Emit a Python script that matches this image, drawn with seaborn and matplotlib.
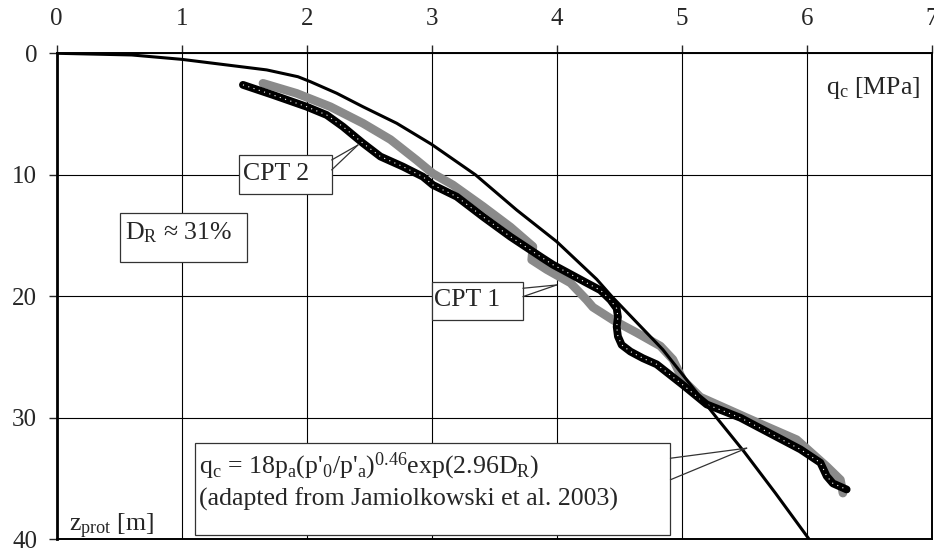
import numpy as np
import pandas as pd
import matplotlib
matplotlib.use('Agg')
import matplotlib.pyplot as plt
import seaborn as sns
from matplotlib.patches import Rectangle

# theory curve, Jamiolkowski et al. 2003
theory_q = [0, 0.6, 1.0, 1.68, 1.93, 2.03, 2.24, 2.45, 2.72, 3.0, 3.35, 3.68, 4.0,
            4.32, 4.44, 4.85, 5.28, 5.5, 5.75, 6.02]
theory_z = [0, 0.14, 0.5, 1.37, 1.93, 2.34, 3.29, 4.4, 5.76, 7.5, 10.0, 12.9, 15.5,
            18.6, 20.0, 24.4, 30.0, 32.8, 36.2, 40.0]

# CPT 1 (grey)
cpt1_q = [1.65, 1.92, 2.19, 2.45, 2.67, 2.88, 3.01, 3.17, 3.41, 3.63, 3.81, 3.80,
          3.92, 4.11, 4.24, 4.29, 4.45, 4.64, 4.83, 4.93, 5.01, 5.15, 5.39, 5.63,
          5.92, 6.16, 6.27, 6.29]
cpt1_z = [2.47, 3.3, 4.4, 5.76, 7.1, 8.8, 9.9, 10.84, 12.6, 14.3, 15.9, 17.0,
          17.8, 18.9, 20.3, 20.9, 21.95, 23.0, 24.1, 25.2, 26.9, 28.3, 29.4, 30.5,
          31.8, 34.0, 35.1, 36.2]

# CPT 2 (black)
cpt2_q = [1.49, 1.73, 2.0, 2.16, 2.29, 2.45, 2.59, 2.77, 2.93, 3.01, 3.2, 3.41,
          3.63, 3.89, 3.97, 4.24, 4.35, 4.43, 4.48, 4.49, 4.48, 4.49, 4.52, 4.59,
          4.69, 4.80, 5.01, 5.2, 5.47, 5.71, 5.95, 6.11, 6.16, 6.21, 6.32]
cpt2_z = [2.6, 3.43, 4.4, 5.08, 6.04, 7.4, 8.5, 9.33, 10.16, 10.84, 11.8, 13.45,
          15.1, 16.87, 17.4, 18.9, 19.5, 20.3, 21.0, 21.7, 22.5, 23.3, 24.0, 24.55,
          25.1, 25.6, 27.3, 28.9, 30.0, 31.3, 32.6, 33.7, 34.8, 35.4, 35.9]

x_ticks = [0, 1, 2, 3, 4, 5, 6, 7]
y_ticks = [0, 10, 20, 30, 40]

sns.set_style('ticks')
plt.rcParams['font.family'] = ['Liberation Serif', 'DejaVu Serif']
plt.rcParams['mathtext.fontset'] = 'custom'
plt.rcParams['mathtext.rm'] = 'Liberation Serif'
plt.rcParams['mathtext.it'] = 'Liberation Serif:italic'

fig = plt.figure(figsize=(9.34, 5.48), dpi=100)
ax = fig.add_axes([0.0607, 0.0159, 0.9368, 0.8869])

theory = pd.DataFrame({'q': theory_q, 'z': theory_z})
cpt1 = pd.DataFrame({'q': cpt1_q, 'z': cpt1_z})
cpt2 = pd.DataFrame({'q': cpt2_q, 'z': cpt2_z})

sns.lineplot(data=cpt1, x='q', y='z', sort=False, estimator=None, ax=ax,
             color='#8a8a8a', lw=6.2, zorder=3)
sns.lineplot(data=cpt2, x='q', y='z', sort=False, estimator=None, ax=ax,
             color='black', lw=5.6, zorder=4)
ax.plot(cpt2_q, cpt2_z, color='white', lw=0.8, ls=(0, (1, 4)), zorder=5)
sns.lineplot(data=theory, x='q', y='z', sort=False, estimator=None, ax=ax,
             color='black', lw=2.2, zorder=6)

ax.set_xlim(0, 7)
ax.set_ylim(40, 0)
ax.set_xticks(x_ticks)
ax.set_yticks(y_ticks)
ax.xaxis.tick_top()
ax.tick_params(axis='x', direction='out', length=6, width=1, pad=11, labelsize=18,
               top=True, bottom=False)
ax.tick_params(axis='y', direction='out', length=6, width=1, pad=8, labelsize=18)
ax.set_xlabel('')
ax.set_ylabel('')
ax.grid(True, color='black', lw=0.8)
for s in ax.spines.values():
    s.set_color('black')
    s.set_linewidth(1.4)
ax.spines['left'].set_linewidth(2)

fs = 18.6

def callout(x0, x1, z0, z1, tip, base):
    ax.add_patch(Rectangle((x0, z0), x1 - x0, z1 - z0, fc='white', ec='#333333',
                           lw=0.9, zorder=8))
    for b in base:
        ax.plot([b[0], tip[0]], [b[1], tip[1]], color='#333333', lw=0.9, zorder=8)

callout(1.46, 2.20, 8.37, 11.58, (2.41, 7.55), [(2.20, 8.78), (2.20, 9.6)])
ax.text(1.49, 10.43, 'CPT 2', fontsize=fs, va='baseline', ha='left', zorder=9)

callout(3.0, 3.73, 18.8, 21.95, (4.0, 19.07), [(3.73, 19.34), (3.73, 20.03)])
ax.text(3.02, 20.77, 'CPT 1', fontsize=fs, va='baseline', ha='left', zorder=9)

callout(0.51, 1.52, 13.14, 17.18, None, [])
ax.text(0.546, 15.28, r'D$_\mathrm{R}$ ≈ 31%', fontsize=fs, va='baseline', ha='left', zorder=9)

callout(1.11, 4.91, 32.1, 39.65, (5.52, 32.5), [(4.91, 33.33), (4.91, 35.1)])
ax.text(1.14, 34.57, r"q$_\mathrm{c}$ = 18p$_\mathrm{a}$(p'$_\mathrm{0}$/p'$_\mathrm{a}$)$^{0.46}$exp(2.96D$_\mathrm{R}$)",
        fontsize=fs, va='baseline', ha='left', zorder=9)
ax.text(1.14, 37.2, '(adapted from Jamiolkowski et al. 2003)', fontsize=fs,
        va='baseline', ha='left', zorder=9)

ax.text(6.91, 3.37, r'q$_\mathrm{c}$ [MPa]', fontsize=fs, va='baseline', ha='right', zorder=9)
ax.text(0.098, 39.37, r'z$_\mathrm{prot}$ [m]', fontsize=fs, va='baseline', ha='left', zorder=9)

fig.savefig('out.png', dpi=100)
